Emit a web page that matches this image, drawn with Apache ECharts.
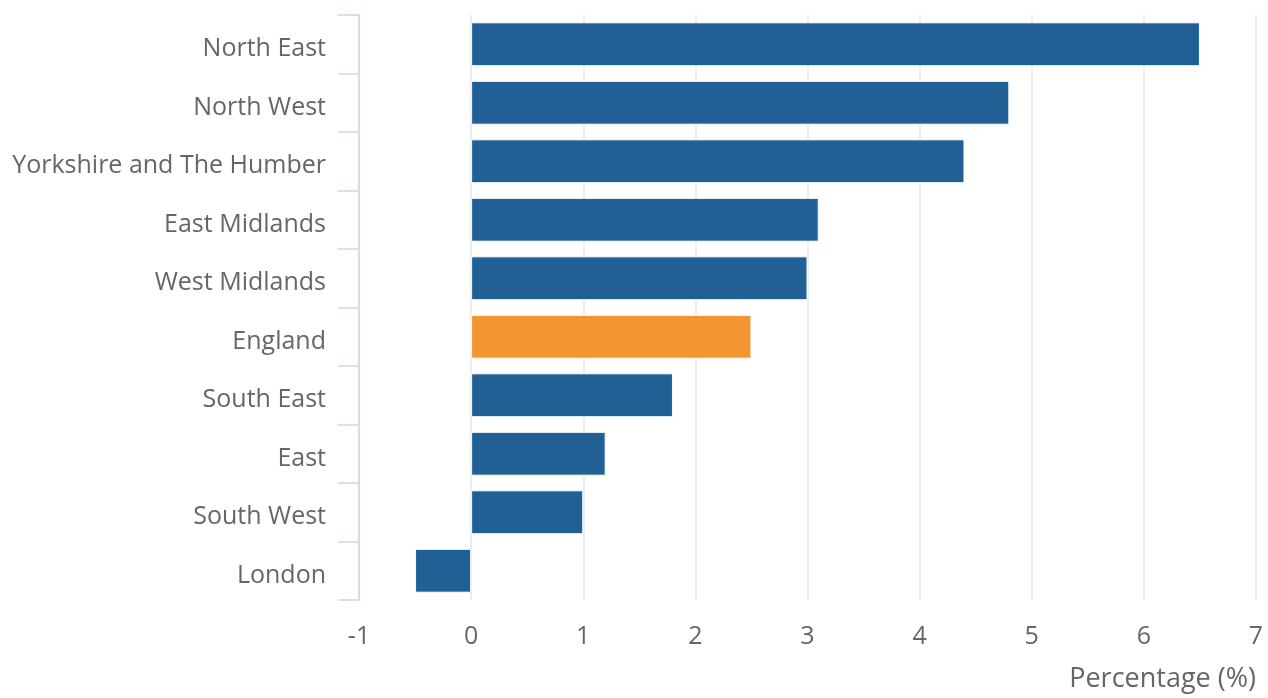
<!DOCTYPE html>
<html>
<head>
<meta charset="utf-8">
<script src="https://cdn.jsdelivr.net/npm/echarts@6/dist/echarts.min.js"></script>
<style>
html,body{margin:0;padding:0;background:#fff;}
#chart{width:1268px;height:698px;}
</style>
</head>
<body>
<div id="chart"></div>
<script>
var categories = ["North East","North West","Yorkshire and The Humber","East Midlands","West Midlands","England","South East","East","South West","London"];
var values = [6.5, 4.8, 4.4, 3.1, 3.0, 2.5, 1.8, 1.2, 1.0, -0.5];
var highlight = "England";
var xTicks = {min: -1, max: 7, interval: 1};
var xName = "Percentage (%)";

var font = "'Open Sans', sans-serif";
var chart = echarts.init(document.getElementById('chart'));
chart.setOption({
  animation: false,
  grid: {left: 359, right: 12, top: 15, bottom: 98, containLabel: false},
  xAxis: {
    type: 'value',
    min: xTicks.min, max: xTicks.max, interval: xTicks.interval,
    name: xName,
    nameLocation: 'end',
    nameGap: 0,
    nameTextStyle: {fontFamily: font, fontSize: 27, color: '#666666', align: 'right', verticalAlign: 'top', padding: [66, 0, 0, 0]},
    axisLine: {show: false},
    axisTick: {show: false},
    axisLabel: {fontFamily: font, fontSize: 25, color: '#666666', margin: 24},
    splitLine: {show: true, lineStyle: {color: '#e6e6e6', width: 1.5}}
  },
  yAxis: {
    type: 'category',
    data: categories,
    inverse: true,
    axisLine: {show: true, onZero: false, lineStyle: {color: '#ccd6eb', width: 1.5}},
    axisTick: {show: true, length: 21, lineStyle: {color: '#ccd6eb', width: 1.5}},
    axisLabel: {
      margin: 33,
      formatter: function(v){ return '{a|' + v + '}'; },
      rich: {a: {fontFamily: font, fontSize: 25, color: '#666666', padding: [10, 0, 0, 0]}}
    },
    splitLine: {show: false}
  },
  series: [{
    type: 'bar',
    data: values.map(function(v, i){
      return {value: v, itemStyle: {color: categories[i] === highlight ? '#f39530' : '#206095'}};
    }),
    barCategoryGap: '25%',
    itemStyle: {borderColor: '#ffffff', borderWidth: 1}
  }]
});
</script>
</body>
</html>
